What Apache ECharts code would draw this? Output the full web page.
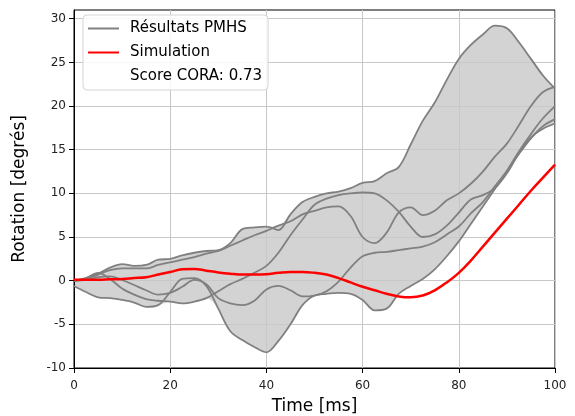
<!DOCTYPE html>
<html><head><meta charset="utf-8">
<script src="https://cdn.jsdelivr.net/npm/echarts@6/dist/echarts.min.js"></script>
<style>html,body{margin:0;padding:0;background:#fff}#c{width:575px;height:416px}</style>
</head><body><div id="c"></div>
<script>
const time = [0,2.5,5,7.5,10,12.5,15,17.5,20,22.5,25,27.5,30,32.5,35,37.5,40,42.5,45,47.5,50,52.5,55,57.5,60,62.5,65,67.5,70,72.5,75,77.5,80,82.5,85,87.5,90,92.5,95,97.5,100];
const pmhs1 = [0,0.3,0.8,1.5,1.9,1.7,1.8,2.4,2.5,2.9,3.2,3.4,3.5,4.3,5.9,6.1,6.2,5.8,7.6,9.0,9.6,10.0,10.2,10.6,11.2,11.4,12.3,13.0,15.6,18.3,20.4,23.0,25.4,27.0,28.2,29.2,28.9,27.3,25.4,23.5,22.0];
const pmhs2 = [0,0.2,0.7,1.2,1.4,1.4,1.4,1.8,2.1,2.4,2.7,3.1,3.4,4.0,4.6,5.2,5.7,6.3,6.8,7.6,8.0,8.4,8.5,7.4,5.0,4.3,5.5,7.8,8.4,7.5,8.0,9.2,10.0,11.1,12.5,14.2,15.7,17.8,20.0,21.6,22.2];
const pmhs3 = [0,0.3,0.9,0.2,-0.9,-1.6,-2.1,-2.3,-2.4,-2.6,-2.4,-2.0,-1.2,-0.4,0.2,0.9,1.7,3.2,5.2,7.0,8.7,9.4,9.8,10.0,10.1,10.0,9.2,7.9,6.2,5.0,5.3,6.3,7.8,9.3,9.8,10.6,12.3,14.6,16.4,17.4,18.0];
const pmhs4 = [0,0.1,0.4,0.5,0.1,-0.5,-1.1,-1.6,-1.4,-0.7,0.1,-0.4,-2.0,-2.6,-2.8,-2.3,-1.0,-0.6,-1.1,-1.8,-1.7,-1.2,-0.1,1.5,2.8,3.2,3.3,3.5,3.7,3.9,4.4,5.3,6.2,7.7,9.0,10.8,12.6,14.8,16.8,18.6,20.0];
const pmhs5 = [-0.6,-1.3,-1.9,-2.0,-2.2,-2.5,-3.0,-2.8,-1.3,0.2,0.3,-0.6,-3.2,-5.8,-6.8,-7.6,-8.2,-6.9,-5.0,-2.8,-1.7,-1.5,-1.4,-1.5,-2.2,-3.4,-3.2,-1.5,-0.6,0.2,1.3,2.8,4.5,6.5,8.5,10.5,12.5,14.5,16.3,17.7,18.5];
const simulation = [0.1,0.1,0.1,0.15,0.2,0.3,0.4,0.7,1.0,1.3,1.35,1.15,0.95,0.8,0.7,0.7,0.75,0.9,1.0,1.0,0.9,0.7,0.3,-0.2,-0.7,-1.1,-1.5,-1.8,-1.9,-1.7,-1.1,-0.2,0.9,2.3,3.9,5.5,7.1,8.7,10.3,11.8,13.3];
const yTicks = [-10,-5,0,5,10,15,20,25,30];
const xTicks = [0,20,40,60,80,100];

const pmhs = [pmhs1,pmhs2,pmhs3,pmhs4,pmhs5];
const lower = time.map((t,i)=>Math.min(...pmhs.map(c=>c[i])));
const upper = time.map((t,i)=>Math.max(...pmhs.map(c=>c[i])));
const pair = arr => time.map((t,i)=>[t,arr[i]]);
const SM = 0.35;
const FONT = 'DejaVu Sans';

const series = [
  {name:'band_hi', type:'line', data:pair(upper), symbol:'none', smooth:SM,
   lineStyle:{opacity:0}, areaStyle:{color:'#d3d3d3', opacity:1, origin:'start'}, z:1, silent:true},
  {name:'band_lo', type:'line', data:pair(lower), symbol:'none', smooth:SM,
   lineStyle:{opacity:0}, areaStyle:{color:'#ffffff', opacity:1, origin:'start'}, z:1, silent:true}
];
pmhs.forEach(c=>series.push({name:'Résultats PMHS', type:'line', data:pair(c), symbol:'none', smooth:SM,
  color:'#808080', lineStyle:{color:'#808080', width:1.8}, z:3, silent:true}));
series.push({name:'Simulation', type:'line', data:pair(simulation), symbol:'none', smooth:0.4,
  color:'#ff0000', lineStyle:{color:'#ff0000', width:2.5}, z:4, silent:true});
series.push({name:'Score CORA: 0.73', type:'line', data:[], symbol:'none', color:'rgba(0,0,0,0)', lineStyle:{opacity:0}});

const chart = echarts.init(document.getElementById('c'), null, {renderer:'canvas'});
chart.setOption({
  animation:false,
  backgroundColor:'#fff',
  grid:{left:74, right:20, top:10, bottom:48, outerBoundsMode:'none', containLabel:false, show:true, borderColor:'#000', borderWidth:1, backgroundColor:'rgba(0,0,0,0)', z:2},
  xAxis:{type:'value', min:0, max:100, interval:20, z:2,
    name:'Time [ms]', nameLocation:'middle', nameGap:30, nameTextStyle:{fontSize:17, fontFamily:FONT, color:'#000'},
    axisLine:{show:true, onZero:false, lineStyle:{color:'#000', width:1}}, axisTick:{show:true, length:5, lineStyle:{color:'#000'}},
    axisLabel:{fontSize:12, fontFamily:FONT, color:'#222', margin:12, customValues:xTicks},
    splitLine:{show:true, lineStyle:{color:'#c8c8c8', width:1}}},
  yAxis:{type:'value', min:-10, max:31, interval:5, z:2,
    name:'Rotation [degrés]', nameLocation:'middle', nameGap:46, nameRotate:90, nameTextStyle:{fontSize:17, fontFamily:FONT, color:'#000'},
    axisLine:{show:true, onZero:false, lineStyle:{color:'#000', width:1}}, axisTick:{show:true, length:5, lineStyle:{color:'#000'}, customValues:yTicks},
    axisLabel:{fontSize:12, fontFamily:FONT, color:'#222', margin:8, customValues:yTicks},
    splitLine:{show:true, lineStyle:{color:'#c8c8c8', width:1}}},
  legend:{left:83, top:15, orient:'vertical', selectedMode:false,
    data:[{name:'Résultats PMHS'},{name:'Simulation'},{name:'Score CORA: 0.73', itemStyle:{opacity:0}, lineStyle:{opacity:0}}],
    itemWidth:31, itemHeight:14, itemGap:9,
    itemStyle:{opacity:0},
    textStyle:{fontSize:15, fontFamily:FONT, color:'#000', padding:[0,0,0,6]},
    padding:[6,6,6,4], backgroundColor:'rgba(255,255,255,0.85)', borderColor:'#d5d5d5', borderWidth:1, borderRadius:4, z:10},
  series:series
});
</script></body></html>
